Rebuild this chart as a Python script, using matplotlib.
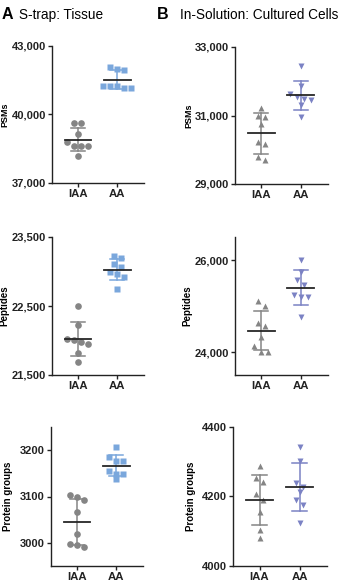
import numpy as np
import matplotlib
matplotlib.use('Agg')
import matplotlib.pyplot as plt
from matplotlib.ticker import FuncFormatter

plt.rcParams['font.family'] = ['Liberation Sans', 'DejaVu Sans']

groups = ['IAA', 'AA']

# panel A: S-trap, tissue
a_psms_iaa = [39610, 39610, 39160, 38780, 38630, 38630, 38630, 38190]
a_psms_aa = [42080, 42000, 41960, 41260, 41260, 41260, 41150, 41150]
a_pep_iaa = [22495, 22230, 21975, 22010, 22025, 21945, 21815, 21690]
a_pep_aa = [22990, 23105, 23195, 23220, 23065, 22915, 22970, 22750]
a_prot_iaa = [2990, 2997, 2996, 3020, 3067, 3092, 3104, 3099]
a_prot_aa = [3206, 3186, 3177, 3177, 3154, 3149, 3149, 3137]

# panel B: in-solution, cultured cells
b_psms_iaa = [31230, 31000, 30970, 30760, 30220, 30180, 29775, 29695]
b_psms_aa = [32450, 31860, 31620, 31475, 31455, 31550, 31310, 30970]
b_pep_iaa = [25100, 24995, 24620, 24560, 24330, 24130, 24000, 23990]
b_pep_aa = [26000, 25735, 25555, 25460, 25230, 25195, 25195, 24765]
b_prot_iaa = [4287, 4253, 4243, 4208, 4190, 4154, 4104, 4080]
b_prot_aa = [4342, 4302, 4227, 4239, 4214, 4190, 4176, 4123]

ylabels = ['PSMs', 'Peptides', 'Protein groups']

GREY = '#858585'
BLUE_A = '#7aa7dc'
BLUE_B = '#7b82c4'
MEAN_C = '#262626'

W, H = 340, 584
fig = plt.figure(figsize=(W / 100, H / 100), dpi=100)


def px_rect(left, top, right, bottom):
    return [left / W, 1 - bottom / H, (right - left) / W, (bottom - top) / H]


def swarm_offsets(values, ax, diam_px=7.0):
    # group close values into rows and centre each row, like GraphPad does
    ylo, yhi = ax.get_ylim()
    h_px = ax.get_position().height * H
    w_px = ax.get_position().width * W
    xlo, xhi = ax.get_xlim()
    to_px = h_px / (yhi - ylo)
    order = np.argsort(values)[::-1]
    rows, cur = [], [order[0]]
    for i in order[1:]:
        if (values[cur[0]] - values[i]) * to_px < diam_px:
            cur.append(i)
        else:
            rows.append(cur)
            cur = [i]
    rows.append(cur)
    offs = np.zeros(len(values))
    step = diam_px * (xhi - xlo) / w_px
    for r in rows:
        n = len(r)
        for k, i in enumerate(r):
            offs[i] = (k - (n - 1) / 2) * step
    return offs


def draw_panel(rect, data, colors, markers, ylim, yticks, ylabel, comma,
               ylsize, label_right_px):
    ax = fig.add_axes(rect)
    ax.set_xlim(-0.66, 1.68)
    ax.set_ylim(*ylim)
    for x, (vals, col, mk) in enumerate(zip(data, colors, markers)):
        vals = np.asarray(vals, dtype=float)
        offs = swarm_offsets(vals, ax)
        ax.plot(x + offs, vals, linestyle='none', marker=mk, ms=4.8,
                mfc=col, mec='none', zorder=2, clip_on=False)
        m = vals.mean()
        sd = vals.std(ddof=1)
        ax.plot([x, x], [m - sd, m + sd], color=col, lw=1.1, zorder=3)
        for yy in (m - sd, m + sd):
            ax.plot([x - 0.18, x + 0.18], [yy, yy], color=col, lw=1.1, zorder=3)
        ax.plot([x - 0.34, x + 0.34], [m, m], color=MEAN_C, lw=1.3, zorder=4)
    ax.set_yticks(yticks)
    if comma:
        ax.yaxis.set_major_formatter(FuncFormatter(lambda v, p: f'{int(v):,}'))
    ax.set_xticks([0, 1])
    ax.set_xticklabels(groups, fontweight='bold', fontsize=8.2)
    for lab in ax.get_yticklabels():
        lab.set_fontweight('bold')
        lab.set_fontsize(8.0)
    ax.set_ylabel(ylabel, fontweight='bold', fontsize=ylsize)
    left_px = rect[0] * W
    width_px = rect[2] * W
    ax.yaxis.set_label_coords((label_right_px - left_px) / width_px, 0.5)
    for s in ('top', 'right'):
        ax.spines[s].set_visible(False)
    for s in ('left', 'bottom'):
        ax.spines[s].set_linewidth(1.0)
        ax.spines[s].set_color('#222222')
    ax.tick_params(axis='both', direction='out', length=3, width=1.0,
                   pad=1.5, colors='#222222')
    return ax


a_data = [(a_psms_iaa, a_psms_aa), (a_pep_iaa, a_pep_aa), (a_prot_iaa, a_prot_aa)]
b_data = [(b_psms_iaa, b_psms_aa), (b_pep_iaa, b_pep_aa), (b_prot_iaa, b_prot_aa)]

a_rects = [px_rect(52, 46, 144, 183), px_rect(52, 237, 144, 375), px_rect(51, 427, 143, 566)]
b_rects = [px_rect(235, 47, 328, 184), px_rect(235, 237, 328, 375), px_rect(233, 427, 327, 566)]
a_label_x = [9, 9, 13]
b_label_x = [193, 192, 196]

a_lims = [(37000, 43000), (21500, 23500), (2950, 3250)]
a_ticks = [[37000, 40000, 43000], [21500, 22500, 23500], [3000, 3100, 3200]]
b_lims = [(29000, 33000), (23500, 26500), (4000, 4400)]
b_ticks = [[29000, 31000, 33000], [24000, 26000], [4000, 4200, 4400]]
comma = [True, True, False]
ylsizes = [6.5, 7, 7]

for i in range(3):
    draw_panel(a_rects[i], a_data[i], [GREY, BLUE_A], ['o', 's'],
               a_lims[i], a_ticks[i], ylabels[i], comma[i], ylsizes[i], a_label_x[i])
    draw_panel(b_rects[i], b_data[i], [GREY, BLUE_B], ['^', 'v'],
               b_lims[i], b_ticks[i], ylabels[i], comma[i], ylsizes[i], b_label_x[i])

fig.text(2 / W, 1 - 19 / H, 'A', fontsize=11.5, fontweight='bold')
fig.text(19 / W, 1 - 19 / H, 'S-trap: Tissue', fontsize=9.8)
fig.text(157 / W, 1 - 19 / H, 'B', fontsize=11.5, fontweight='bold')
fig.text(180 / W, 1 - 19 / H, 'In-Solution: Cultured Cells', fontsize=9.8)

plt.savefig('out.png', dpi=100)
plt.close()
